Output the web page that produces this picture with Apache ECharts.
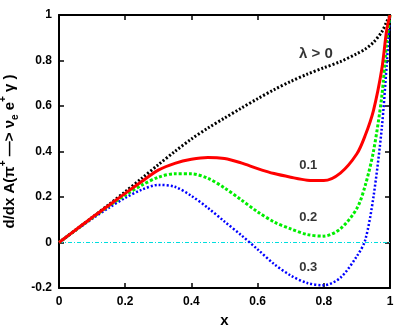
<!DOCTYPE html>
<html>
<head>
<meta charset="utf-8">
<script src="https://cdn.jsdelivr.net/npm/echarts@6/dist/echarts.min.js"></script>
<style>
  html, body { margin: 0; padding: 0; background: #fff; }
  #main { width: 409px; height: 327px; }
</style>
</head>
<body>
<div id="main"></div>
<script>
var chart = echarts.init(document.getElementById('main'));

// values
var xs = [0, 0.05, 0.1, 0.15, 0.2, 0.25, 0.3, 0.35, 0.4, 0.45, 0.5, 0.55, 0.6, 0.65, 0.7, 0.75, 0.8, 0.85, 0.9, 0.925, 0.95, 0.975, 0.99, 1];
var lam0 = [0, 0.055, 0.11, 0.166, 0.223, 0.282, 0.342, 0.4, 0.455, 0.503, 0.547, 0.59, 0.632, 0.672, 0.708, 0.74, 0.768, 0.795, 0.83, 0.85, 0.88, 0.925, 0.97, 1];
var lam1 = [0, 0.055, 0.11, 0.163, 0.216, 0.268, 0.318, 0.348, 0.366, 0.374, 0.369, 0.35, 0.325, 0.303, 0.287, 0.274, 0.272, 0.305, 0.39, 0.47, 0.58, 0.76, 0.934, 1];
var lam2 = [0, 0.054, 0.108, 0.16, 0.208, 0.252, 0.287, 0.302, 0.302, 0.282, 0.24, 0.188, 0.135, 0.09, 0.06, 0.035, 0.028, 0.06, 0.15, 0.25, 0.4, 0.64, 0.88, 1];
var lam3 = [0, 0.053, 0.104, 0.152, 0.196, 0.232, 0.253, 0.245, 0.205, 0.152, 0.092, 0.033, -0.03, -0.095, -0.145, -0.178, -0.188, -0.155, -0.06, 0.01, 0.2, 0.5, 0.78, 1];
var zeroLine = [[0, 0], [1, 0]];

// curve labels: [x, y, text, size]
var curveLabels = [
    [0.776, 0.83, 'λ > 0', 15],
    [0.753, 0.34, '0.1', 13],
    [0.753, 0.111, '0.2', 13],
    [0.753, -0.109, '0.3', 13]
];

function pairs(ys) {
    return xs.map(function(x, i) { return [x, ys[i]]; });
}

var font = 'Liberation Sans, Arial, sans-serif';
var lbl = { color: '#000', fontFamily: font, fontWeight: 'bold', fontSize: 12 };
var tickIn = { show: true, inside: true, length: 5, lineStyle: { color: '#000', width: 1.5 } };
var frame = { show: true, onZero: false, lineStyle: { color: '#000', width: 2 } };

function fmt(v) { return String(Number(v.toFixed(1))); }

var option = {
    animation: false,
    grid: { left: 59, right: 19, top: 15, bottom: 39, outerBoundsMode: 'none', containLabel: false },
    xAxis: [{
        type: 'value', min: 0, max: 1, interval: 0.2,
        axisLine: frame, axisTick: tickIn, splitLine: { show: false },
        axisLabel: Object.assign({ margin: 8, formatter: fmt }, lbl),
        name: 'x', nameLocation: 'middle', nameGap: 24,
        nameTextStyle: { color: '#000', fontFamily: font, fontWeight: 'bold', fontSize: 15 }
    }, {
        type: 'value', min: 0, max: 1, interval: 0.2, position: 'top',
        axisLine: frame, axisTick: tickIn, axisLabel: { show: false }, splitLine: { show: false }
    }],
    yAxis: [{
        type: 'value', min: -0.2, max: 1, interval: 0.2,
        axisLine: frame, axisTick: tickIn, splitLine: { show: false },
        axisLabel: Object.assign({ margin: 7, formatter: fmt }, lbl),
        name: '{a|d/dx A(π}{s|+}{a| —> ν}{b|e}{a| e}{s|+}{a| γ )}',
        nameLocation: 'middle', nameRotate: 90, nameGap: 38,
        nameTextStyle: {
            rich: {
                a: { color: '#000', fontFamily: font, fontWeight: 'bold', fontSize: 15, lineHeight: 22, verticalAlign: 'middle' },
                s: { color: '#000', fontFamily: font, fontWeight: 'bold', fontSize: 10, lineHeight: 22, verticalAlign: 'top' },
                b: { color: '#000', fontFamily: font, fontWeight: 'bold', fontSize: 10, lineHeight: 22, verticalAlign: 'bottom' }
            }
        }
    }, {
        type: 'value', min: -0.2, max: 1, interval: 0.2, position: 'right',
        axisLine: frame, axisTick: tickIn, axisLabel: { show: false }, splitLine: { show: false }
    }],
    series: [{
        type: 'line', data: zeroLine, symbol: 'none', z: 1,
        lineStyle: { color: '#00dede', width: 1.2, type: [4, 2, 1, 2] }
    }, {
        type: 'line', data: pairs(lam0), symbol: 'none', smooth: 0.3,
        lineStyle: { color: '#000', width: 3, type: [2, 2] }
    }, {
        type: 'line', data: pairs(lam3), symbol: 'none', smooth: 0.3,
        lineStyle: { color: '#0000ff', width: 2.5, type: [2, 2] }
    }, {
        type: 'line', data: pairs(lam2), symbol: 'none', smooth: 0.3,
        lineStyle: { color: '#00ee00', width: 3, type: [3, 2] }
    }, {
        type: 'line', data: pairs(lam1), symbol: 'none', smooth: 0.3,
        lineStyle: { color: '#ff0000', width: 3 }
    }, {
        type: 'scatter', symbolSize: 0, silent: true,
        data: curveLabels.map(function(d) {
            return { value: [d[0], d[1]], name: d[2], label: { fontSize: d[3] } };
        }),
        label: {
            show: true, position: 'inside', formatter: '{b}',
            color: '#000', fontFamily: font, fontWeight: 'bold', fontSize: 13
        }
    }]
};
chart.setOption(option);
</script>
</body>
</html>
